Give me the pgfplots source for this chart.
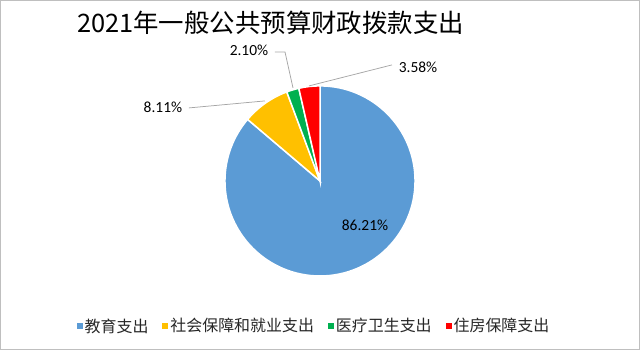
\documentclass[border=0pt]{standalone}
\usepackage{pgfplots}
\usepackage{pgfplotstable}
\pgfplotsset{compat=1.18}
\usepackage{fontspec}
\setmainfont{Carlito}
\newfontfamily\cjk{Noto Sans CJK SC}
\definecolor{pieblue}{HTML}{5B9BD5}
\definecolor{pieyellow}{HTML}{FFC000}
\definecolor{piegreen}{HTML}{00B050}
\definecolor{piered}{HTML}{FF0000}
\definecolor{leader}{HTML}{A6A6A6}
\definecolor{frame}{HTML}{BFBFBF}

\pgfplotstableread[col sep=comma]{
name,value
教育支出,86.21
社会保障和就业支出,8.11
医疗卫生支出,2.10
住房保障支出,3.58
}\piedata

\begin{document}
\begin{tikzpicture}
\pgfplotstablegetelem{0}{value}\of\piedata \edef\vA{\pgfplotsretval}
\pgfplotstablegetelem{1}{value}\of\piedata \edef\vB{\pgfplotsretval}
\pgfplotstablegetelem{2}{value}\of\piedata \edef\vC{\pgfplotsretval}
\pgfplotstablegetelem{3}{value}\of\piedata \edef\vD{\pgfplotsretval}
\pgfmathsetmacro{\aA}{90}
\pgfmathsetmacro{\aB}{\aA-3.6*\vA}
\pgfmathsetmacro{\aC}{\aB-3.6*\vB}
\pgfmathsetmacro{\aD}{\aC-3.6*\vC}
\pgfmathsetmacro{\aE}{\aD-3.6*\vD}
\begin{axis}[
  width=640bp, height=352bp, scale only axis,
  xmin=0, xmax=640, ymin=0, ymax=352,
  hide axis, clip=false,
  legend columns=4,
  legend style={at={(axis cs:314,26)}, anchor=center, draw=none, fill=none,
    font=\cjk\fontsize{16}{18}\selectfont, text=black!85,
    /tikz/every even column/.append style={column sep=12bp}},
  legend image code/.code={\path[#1, draw=none] (0bp,-3bp) rectangle (6bp,3bp);},
]
\addlegendimage{fill=pieblue}
\addlegendimage{fill=pieyellow}
\addlegendimage{fill=piegreen}
\addlegendimage{fill=piered}
\legend{教育支出,社会保障和就业支出,医疗卫生支出,住房保障支出}

\draw[frame, line width=0.75bp] (axis cs:0.5,2.5) rectangle (axis cs:639.5,351.5);

\filldraw[fill=pieblue, draw=white, line width=1.5bp] (axis cs:320,171) -- ++(\aA:95bp) arc[start angle=\aA, end angle=\aB, radius=95bp] -- cycle;
\filldraw[fill=pieyellow, draw=white, line width=1.5bp] (axis cs:320,171) -- ++(\aB:95bp) arc[start angle=\aB, end angle=\aC, radius=95bp] -- cycle;
\filldraw[fill=piegreen, draw=white, line width=1.5bp] (axis cs:320,171) -- ++(\aC:95bp) arc[start angle=\aC, end angle=\aD, radius=95bp] -- cycle;
\filldraw[fill=piered, draw=white, line width=1.5bp] (axis cs:320,171) -- ++(\aD:95bp) arc[start angle=\aD, end angle=\aE, radius=95bp] -- cycle;

\draw[leader, line width=0.75bp] (axis cs:189,244) -- (axis cs:265,251);
\draw[leader, line width=0.75bp] (axis cs:275,300) -- (axis cs:285,300) -- (axis cs:293,264);
\draw[leader, line width=0.75bp] (axis cs:392,287) -- (axis cs:309,266);

\node[font=\fontsize{15.5}{18}\selectfont] at (axis cs:365,127) {\pgfmathprintnumber[fixed,fixed zerofill,precision=2,assume math mode=true]{\vA}\%};
\node[font=\fontsize{15.5}{18}\selectfont] at (axis cs:163,245) {\pgfmathprintnumber[fixed,fixed zerofill,precision=2,assume math mode=true]{\vB}\%};
\node[font=\fontsize{15.5}{18}\selectfont] at (axis cs:249,302) {\pgfmathprintnumber[fixed,fixed zerofill,precision=2,assume math mode=true]{\vC}\%};
\node[font=\fontsize{15.5}{18}\selectfont] at (axis cs:418,285) {\pgfmathprintnumber[fixed,fixed zerofill,precision=2,assume math mode=true]{\vD}\%};

\node[anchor=west, inner sep=0pt, font=\cjk\fontsize{25.5}{30}\selectfont] at (axis cs:77,329) {2021年一般公共预算财政拨款支出};
\end{axis}
\end{tikzpicture}
\end{document}
